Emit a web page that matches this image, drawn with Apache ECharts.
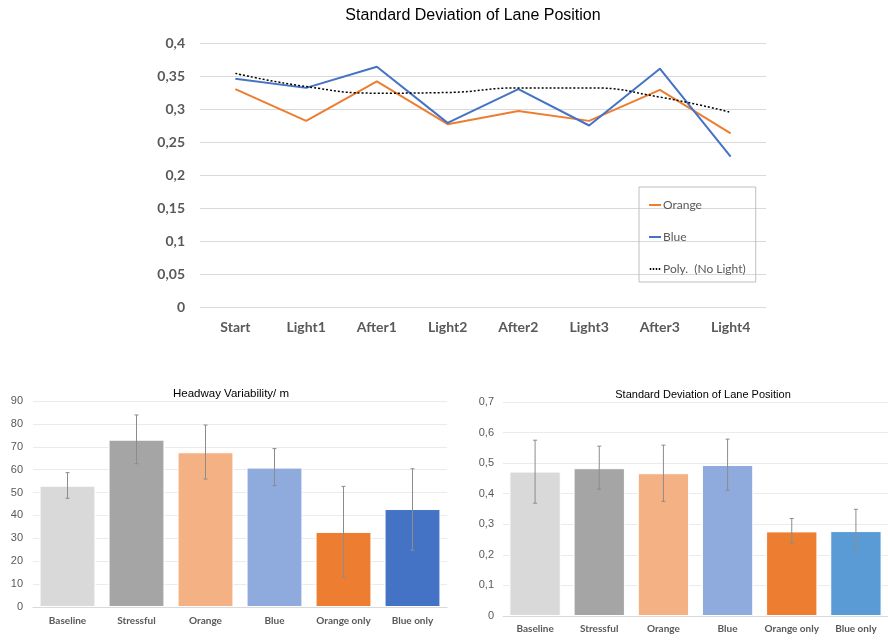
<!DOCTYPE html>
<html><head><meta charset="utf-8">
<script src="https://cdn.jsdelivr.net/npm/echarts@6/dist/echarts.min.js"></script>
<style>html,body{margin:0;padding:0;background:#fff}#c{width:888px;height:640px}</style>
</head><body><div id="c"></div>
<script>
// ---- Data ----
const lineCategories = ['Start','Light1','After1','Light2','After2','Light3','After3','Light4'];
const orangeLine = [0.330,0.282,0.342,0.277,0.297,0.282,0.329,0.263];
const blueLine   = [0.346,0.332,0.364,0.279,0.330,0.275,0.361,0.228];
const polyLine   = [0.354,0.334,0.324,0.325,0.332,0.332,0.318,0.295];

const barCategories = ['Baseline','Stressful','Orange','Blue','Orange only','Blue only'];
const headwayValues = [53.0,73.1,67.6,60.9,32.8,42.8];
const headwayLow    = [47.5,62.6,55.9,53.0,13.1,24.8];
const headwayHigh   = [58.7,83.9,79.5,69.2,52.7,60.4];

const sdlpValues = [0.4725,0.4834,0.467,0.494,0.2767,0.2778];
const sdlpLow    = [0.369,0.4145,0.375,0.411,0.237,0.211];
const sdlpHigh   = [0.575,0.5556,0.559,0.5786,0.319,0.349];

// ---- Styles ----
const headwayColors = ['#d9d9d9','#a5a5a5','#f4b183','#8faadc','#ed7d31','#4472c4'];
const sdlpColors    = ['#d9d9d9','#a5a5a5','#f4b183','#8faadc','#ed7d31','#5b9bd5'];
const solidIcon  = 'path://M0,0H12V2H0Z';
const dottedIcon = 'path://M0,0H1.5V2H0ZM3,0H4.5V2H3ZM6,0H7.5V2H6ZM9,0H10.5V2H9Z';

const comma = d => v => String(+(+v).toFixed(d)).replace('.', ',');
const gridLine = {show:true, lineStyle:{color:'#d9d9d9', width:1}};

function errSeries(xi, yi, low, high){
  return {
    type:'custom', xAxisIndex:xi, yAxisIndex:yi, z:10, silent:true,
    data: low.map((l,i)=>[i,l,high[i]]),
    renderItem:(params, api)=>{
      const x = api.value(0);
      const p1 = api.coord([x, api.value(1)]);
      const p2 = api.coord([x, api.value(2)]);
      const s = {stroke:'#8c8c8c', lineWidth:1};
      const c = 2;
      return {type:'group', children:[
        {type:'line', shape:{x1:p1[0],y1:p1[1],x2:p2[0],y2:p2[1]}, style:s},
        {type:'line', shape:{x1:p1[0]-c,y1:p1[1],x2:p1[0]+c,y2:p1[1]}, style:s},
        {type:'line', shape:{x1:p2[0]-c,y1:p2[1],x2:p2[0]+c,y2:p2[1]}, style:s}
      ]};
    }
  };
}

const chart = echarts.init(document.getElementById('c'), null, {renderer:'canvas'});
chart.setOption({
  animation:false,
  backgroundColor:'#fff',
  title:[
    {text:'Standard Deviation of Lane Position', left:468, top:3, textAlign:'center',
     textStyle:{fontFamily:'Liberation Sans', fontSize:16, fontWeight:'normal', color:'#000'}},
    {text:'Headway Variability/ m', left:226, top:383, textAlign:'center',
     textStyle:{fontFamily:'Liberation Sans', fontSize:11.5, fontWeight:'normal', color:'#000'}},
    {text:'Standard Deviation of Lane Position', left:698, top:384, textAlign:'center',
     textStyle:{fontFamily:'Liberation Sans', fontSize:11, fontWeight:'normal', color:'#000'}}
  ],
  legend:{
    left:639, top:187, orient:'vertical', itemGap:20, itemWidth:12, itemHeight:2,
    padding:[12,10,7,10], borderColor:'#bfbfbf', borderWidth:1,
    textStyle:{fontFamily:'Lato', fontSize:12, color:'#595959', padding:[0,0,0,-3]},
    data:[{name:'Orange', icon:solidIcon},{name:'Blue', icon:solidIcon},{name:'Poly.  (No Light)', icon:dottedIcon}]
  },
  grid:[
    {left:200, right:122, top:43, bottom:333},
    {left:33, right:441, top:401, bottom:33},
    {left:503, right:-9, top:402, bottom:24}
  ],
  xAxis:[
    {gridIndex:0, type:'category', data:lineCategories, boundaryGap:true,
     axisLine:{show:false}, axisTick:{show:false},
     axisLabel:{margin:13, fontFamily:'Lato', fontWeight:'bold', fontSize:14, color:'#595959'}},
    {gridIndex:1, type:'category', data:barCategories,
     axisLine:{show:true, lineStyle:{color:'#d9d9d9'}}, axisTick:{show:false},
     axisLabel:{margin:9, fontFamily:'Lato', fontWeight:'bold', fontSize:10, color:'#595959', interval:0}},
    {gridIndex:2, type:'category', data:barCategories,
     axisLine:{show:true, lineStyle:{color:'#d9d9d9'}}, axisTick:{show:false},
     axisLabel:{margin:8, fontFamily:'Lato', fontWeight:'bold', fontSize:10, color:'#595959', interval:0}}
  ],
  yAxis:[
    {gridIndex:0, type:'value', min:0, max:0.4, interval:0.05,
     axisLine:{show:false}, axisTick:{show:false}, splitLine:gridLine,
     axisLabel:{margin:15, fontFamily:'Lato', fontWeight:'bold', fontSize:14, color:'#595959', formatter:comma(2)}},
    {gridIndex:1, type:'value', min:0, max:90, interval:10,
     axisLine:{show:false}, axisTick:{show:false}, splitLine:{show:true, lineStyle:{color:'#ebebeb'}},
     axisLabel:{margin:10, fontFamily:'Liberation Sans', fontSize:11, color:'#595959'}},
    {gridIndex:2, type:'value', min:0, max:0.7, interval:0.1,
     axisLine:{show:false}, axisTick:{show:false}, splitLine:{show:true, lineStyle:{color:'#ebebeb'}},
     axisLabel:{margin:9, fontFamily:'Liberation Sans', fontSize:11, color:'#595959', formatter:comma(1)}}
  ],
  series:[
    {name:'Orange', type:'line', xAxisIndex:0, yAxisIndex:0, data:orangeLine, symbol:'none',
     lineStyle:{color:'#ed7d31', width:2}, itemStyle:{color:'#ed7d31'}},
    {name:'Blue', type:'line', xAxisIndex:0, yAxisIndex:0, data:blueLine, symbol:'none',
     lineStyle:{color:'#4472c4', width:2}, itemStyle:{color:'#4472c4'}},
    {name:'Poly.  (No Light)', type:'line', xAxisIndex:0, yAxisIndex:0, data:polyLine, symbol:'none', smooth:0.5,
     lineStyle:{color:'#000', width:1.5, type:[2,2]}, itemStyle:{color:'#000'}},
    {type:'bar', xAxisIndex:1, yAxisIndex:1, barCategoryGap:'19%',
     data:headwayValues.map((v,i)=>({value:v, itemStyle:{color:headwayColors[i], borderColor:'#ffffff', borderWidth:1}}))},
    errSeries(1,1,headwayLow,headwayHigh),
    {type:'bar', xAxisIndex:2, yAxisIndex:2, barCategoryGap:'20%',
     data:sdlpValues.map((v,i)=>({value:v, itemStyle:{color:sdlpColors[i], borderColor:'#ffffff', borderWidth:1}}))},
    errSeries(2,2,sdlpLow,sdlpHigh)
  ]
});
</script></body></html>
